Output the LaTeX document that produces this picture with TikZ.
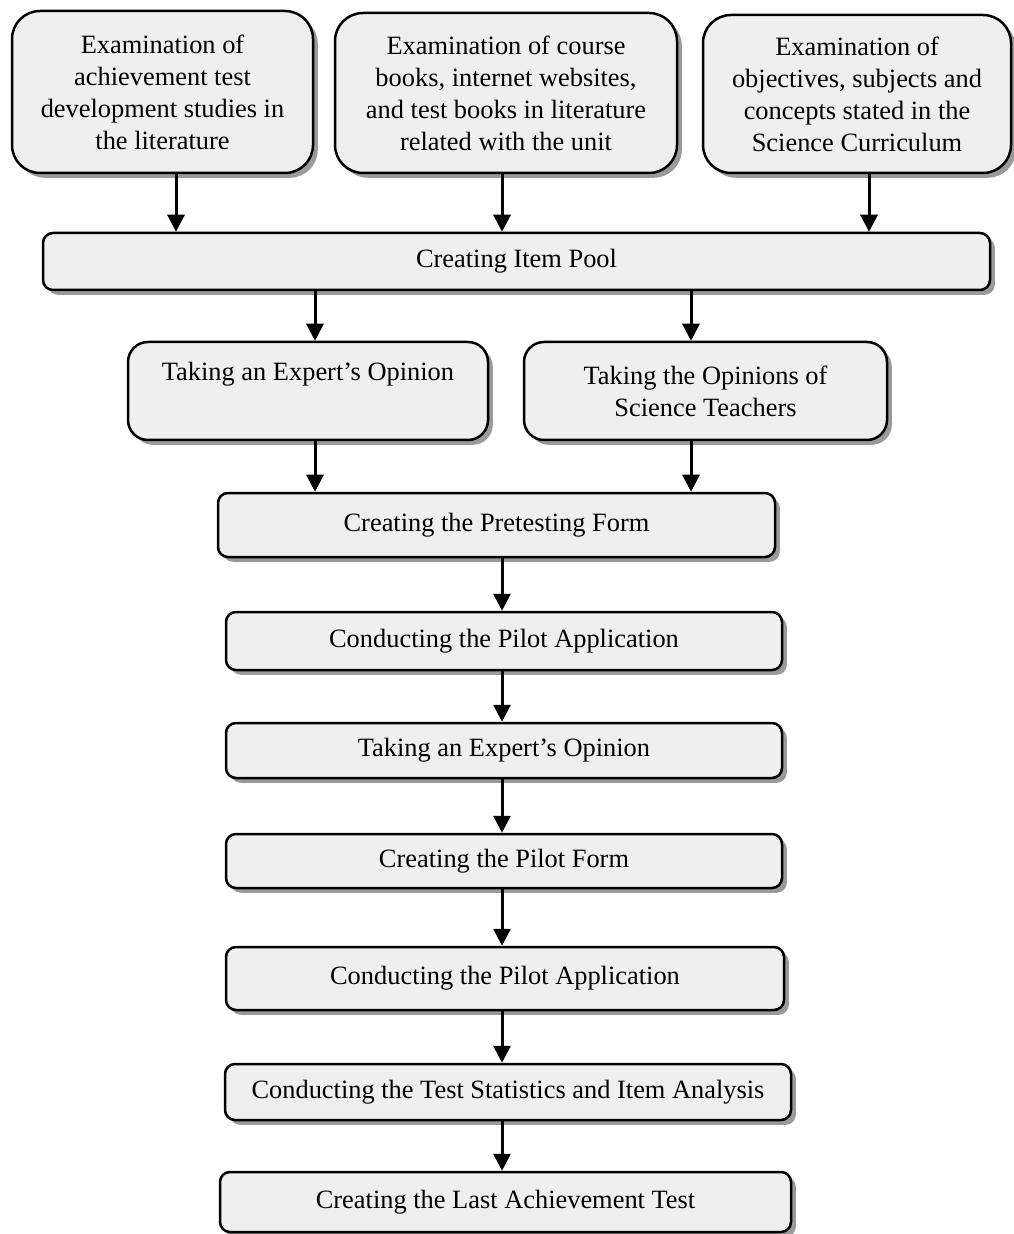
\documentclass[tikz,border=0pt]{standalone}
\usepackage{fontspec}
\setmainfont{Liberation Serif}
\usetikzlibrary{arrows.meta, shadows, calc, positioning}
\definecolor{boxgray}{HTML}{EFEFEF}
\definecolor{shadowgray}{HTML}{9A9A9A}
\tikzset{
  % Graph arrow style
  garr/.style={
    line width = 1.5pt
    , -{Triangle[width=8.5pt, length=8.5pt]}
  },
}
\tikzset{
  % step box style
  stepbox/.style={
    draw
    , fill=boxgray
    , line width=1.25pt
    , anchor=center
    , align=center
    , rounded corners=5pt
    , inner sep=0pt
    , font=\fontsize{13.2}{16}\selectfont
    , drop shadow={shadow xshift=2.4pt, shadow yshift=-2.4pt, fill=shadowgray, opacity=1}
  },
}
\tikzset{
  % source box style (top row)
  srcbox/.style={
    stepbox
    , rounded corners=14pt
  },
}
\tikzset{
  % opinion box style
  opinbox/.style={
    stepbox
    , rounded corners=10pt
  },
}
\begin{document}
\begin{tikzpicture}[x=0.5pt, y=-0.5pt]
        \useasboundingbox (0,0) rectangle (1013,1234);
        % top row
        \node[srcbox, minimum width=150.5pt, minimum height=81pt] (src1) at (162.5,92)
          {Examination of\\achievement test\\development studies in\\the literature};
        \node[srcbox, minimum width=171pt, minimum height=80pt] (src2) at (506,93)
          {Examination of course\\books, internet websites,\\and test books in literature\\related with the unit};
        \node[srcbox, minimum width=154pt, minimum height=79pt] (src3) at (857,94)
          {Examination of\\objectives, subjects and\\concepts stated in the\\Science Curriculum};
        \node[stepbox, minimum width=473.5pt, minimum height=28.5pt] (pool) at (516.5,261.5)
          {Creating Item Pool};
        % opinions
        \node[opinbox, minimum width=180pt, minimum height=49pt, text depth=19.5pt] (expert1) at (308,391)
          {Taking an Expert's Opinion};
        \node[opinbox, minimum width=181.5pt, minimum height=49pt] (teachers) at (705.5,391)
          {Taking the Opinions of\\Science Teachers};
        % main chain
        \node[stepbox, minimum width=278.5pt, minimum height=32pt] (pretest) at (496.5,525)
          {Creating the Pretesting Form};
        \node[stepbox, minimum width=278pt, minimum height=29pt] (pilot1) at (504,641)
          {Conducting the Pilot Application};
        \node[stepbox, minimum width=278pt, minimum height=27.5pt] (expert2) at (504,750.5)
          {Taking an Expert's Opinion};
        \node[stepbox, minimum width=278pt, minimum height=27pt] (pilotform) at (504,861)
          {Creating the Pilot Form};
        \node[stepbox, minimum width=279pt, minimum height=31.5pt] (pilot2) at (505,978.5)
          {Conducting the Pilot Application};
        \node[stepbox, minimum width=283pt, minimum height=28pt] (stats) at (508,1092)
          {Conducting the Test Statistics and Item Analysis};
        \node[stepbox, minimum width=285.5pt, minimum height=30pt] (last) at (505.5,1202)
          {Creating the Last Achievement Test};
        % arrows
        \draw[garr] ([xshift=6.75pt]src1.south) -- ([xshift=6.75pt]src1.south |- pool.north);
        \draw[garr] ([xshift=-2pt]src2.south) -- ([xshift=-2pt]src2.south |- pool.north);
        \draw[garr] ([xshift=6pt]src3.south) -- ([xshift=6pt]src3.south |- pool.north);
        \draw[garr] ([xshift=3.5pt]expert1.north |- pool.south) -- ([xshift=3.5pt]expert1.north);
        \draw[garr] ([xshift=-7.25pt]teachers.north |- pool.south) -- ([xshift=-7.25pt]teachers.north);
        \draw[garr] ([xshift=3.5pt]expert1.south) -- ([xshift=3.5pt]expert1.south |- pretest.north);
        \draw[garr] ([xshift=-7.25pt]teachers.south) -- ([xshift=-7.25pt]teachers.south |- pretest.north);
        \draw[garr] ([xshift=2.75pt]pretest.south) -- ([xshift=-1pt]pilot1.north);
        \draw[garr] ([xshift=-1pt]pilot1.south) -- ([xshift=-1pt]expert2.north);
        \draw[garr] ([xshift=-1pt]expert2.south) -- ([xshift=-1pt]pilotform.north);
        \draw[garr] ([xshift=-1pt]pilotform.south) -- ([xshift=-1pt]pilotform.south |- pilot2.north);
        \draw[garr] ([xshift=-1.5pt]pilot2.south) -- ([xshift=-1.5pt]pilot2.south |- stats.north);
        \draw[garr] ([xshift=-3pt]stats.south) -- ([xshift=-3pt]stats.south |- last.north);
\end{tikzpicture}
\end{document}
